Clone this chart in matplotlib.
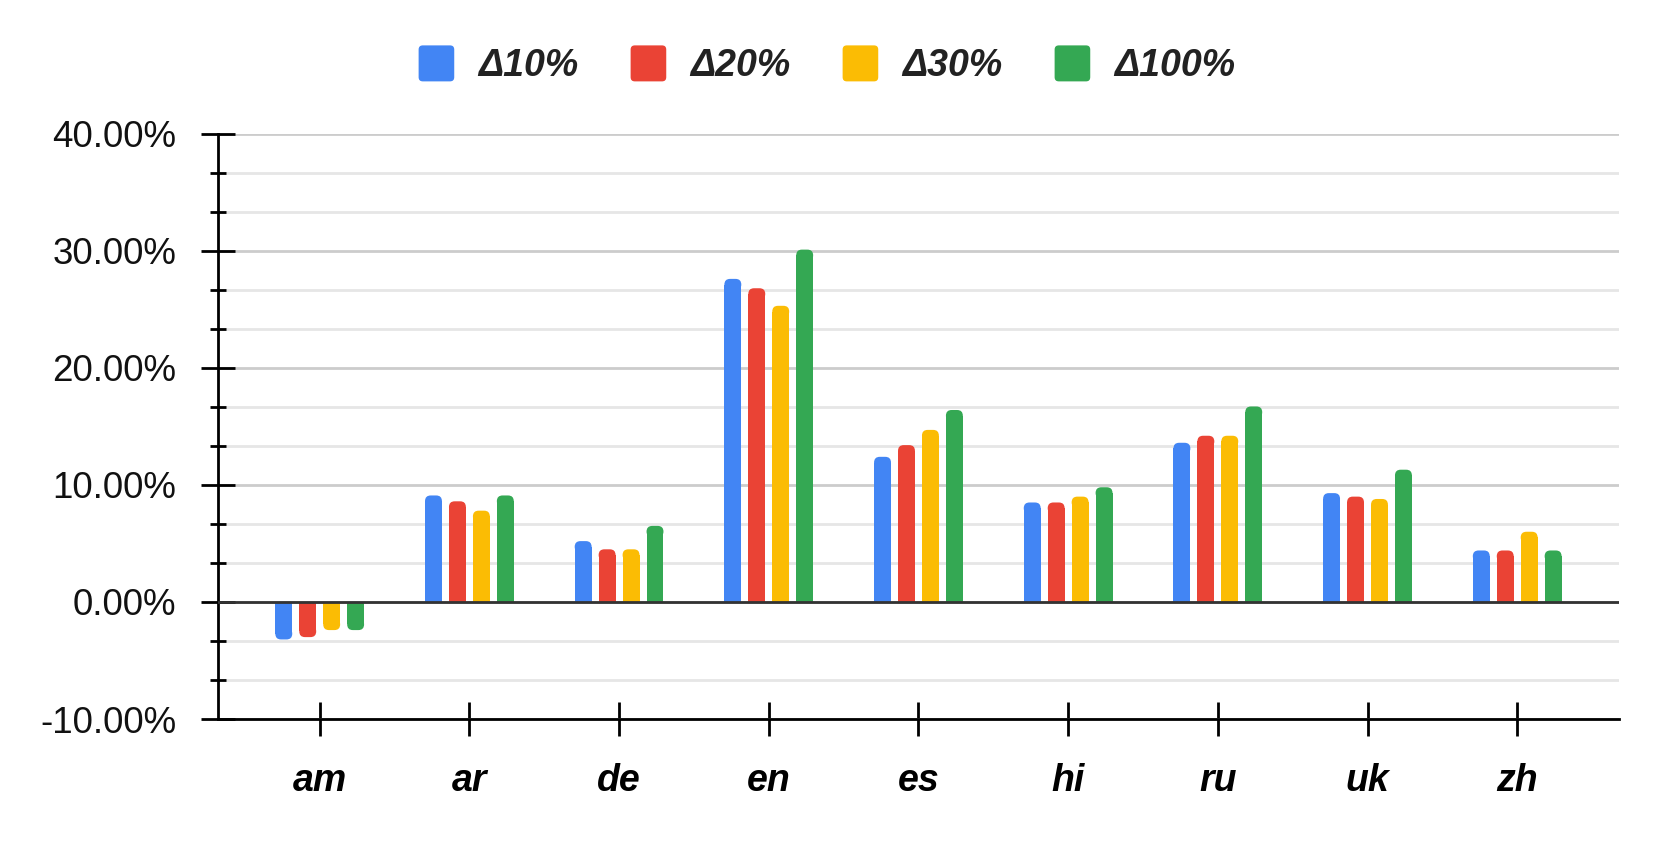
import numpy as np
import matplotlib.pyplot as plt
from matplotlib.patches import FancyBboxPatch, Patch
from matplotlib.legend_handler import HandlerPatch
from matplotlib.ticker import MultipleLocator, FuncFormatter

plt.rcParams['font.family'] = ['Liberation Sans', 'DejaVu Sans']

# datos (en %)
idiomas = ['am', 'ar', 'de', 'en', 'es', 'hi', 'ru', 'uk', 'zh']
series = ['Δ10%', 'Δ20%', 'Δ30%', 'Δ100%']
d10 = [-3.2, 9.1, 5.2, 27.6, 12.4, 8.5, 13.6, 9.3, 4.4]
d20 = [-3.0, 8.6, 4.5, 26.8, 13.4, 8.5, 14.2, 9.0, 4.4]
d30 = [-2.4, 7.8, 4.5, 25.3, 14.7, 9.0, 14.2, 8.8, 6.0]
d100 = [-2.4, 9.1, 6.5, 30.1, 16.4, 9.8, 16.7, 11.3, 4.4]
colores = ['#4285F4', '#EA4335', '#FBBC04', '#34A853']

fig = plt.figure(figsize=(16.61, 8.41), dpi=100)
ax = fig.add_axes([0.1312, 0.145, 0.8435, 0.696])

x = np.arange(len(idiomas))
paso = 0.16
ancho = 0.113
r = 0.038          # radio de las esquinas en unidades de x
aspecto = 12.85    # relación unidades y / unidades x en pantalla

for i, (vals, c) in enumerate(zip([d10, d20, d30, d100], colores)):
    xs = x + (i - 1.5) * paso
    ry = r * aspecto
    alto = [v - np.sign(v) * ry for v in vals]
    ax.bar(xs, alto, width=ancho, color=c, zorder=3)
    for xi, v in zip(xs, vals):
        y0 = v - np.sign(v) * 2 * ry
        ax.add_patch(FancyBboxPatch((xi - ancho / 2, min(y0, v)), ancho, 2 * ry,
                                    boxstyle='round,pad=0,rounding_size=%f' % r,
                                    mutation_aspect=aspecto, fc=c, ec='none', zorder=3))

ax.set_xlim(-0.68, len(idiomas) - 1 + 0.68)
ax.set_ylim(-10, 40)

ax.yaxis.set_major_locator(MultipleLocator(10))
ax.yaxis.set_minor_locator(MultipleLocator(10 / 3))
ax.yaxis.set_major_formatter(FuncFormatter(lambda v, p: '%.2f%%' % v))
ax.grid(axis='y', which='major', color='#cccccc', lw=2, zorder=0)
ax.grid(axis='y', which='minor', color='#e6e6e6', lw=2, zorder=0)
ax.axhline(0, color='#333333', lw=2, zorder=4)

ax.set_xticks(x)
ax.set_xticklabels(idiomas, fontsize=27, fontweight='bold', fontstyle='italic')
ax.tick_params(axis='x', direction='inout', length=24, width=2, pad=20)
ax.tick_params(axis='y', which='major', direction='inout', length=24, width=2,
               labelsize=26.5, pad=18, labelcolor='#111111')
ax.tick_params(axis='y', which='minor', direction='inout', length=12, width=2)

for s in ['top', 'right']:
    ax.spines[s].set_visible(False)
ax.spines['left'].set_linewidth(2)
ax.spines['bottom'].set_linewidth(2)


def cuadro(legend, orig_handle, xdescent, ydescent, width, height, fontsize):
    return FancyBboxPatch((-xdescent, -ydescent), width, height,
                          boxstyle='round,pad=0,rounding_size=3')


handles = [Patch(facecolor=c, edgecolor='none') for c in colores]
leg = fig.legend(handles, series, loc='center', bbox_to_anchor=(0.498, 0.923), ncol=4,
                 frameon=False, handlelength=0.95, handleheight=1.1, columnspacing=1.38,
                 handletextpad=0.65,
                 handler_map={Patch: HandlerPatch(patch_func=cuadro)},
                 prop={'size': 27, 'weight': 'bold', 'style': 'italic'})
for t in leg.get_texts():
    t.set_color('#222222')

fig.savefig('out.png', dpi=100)
